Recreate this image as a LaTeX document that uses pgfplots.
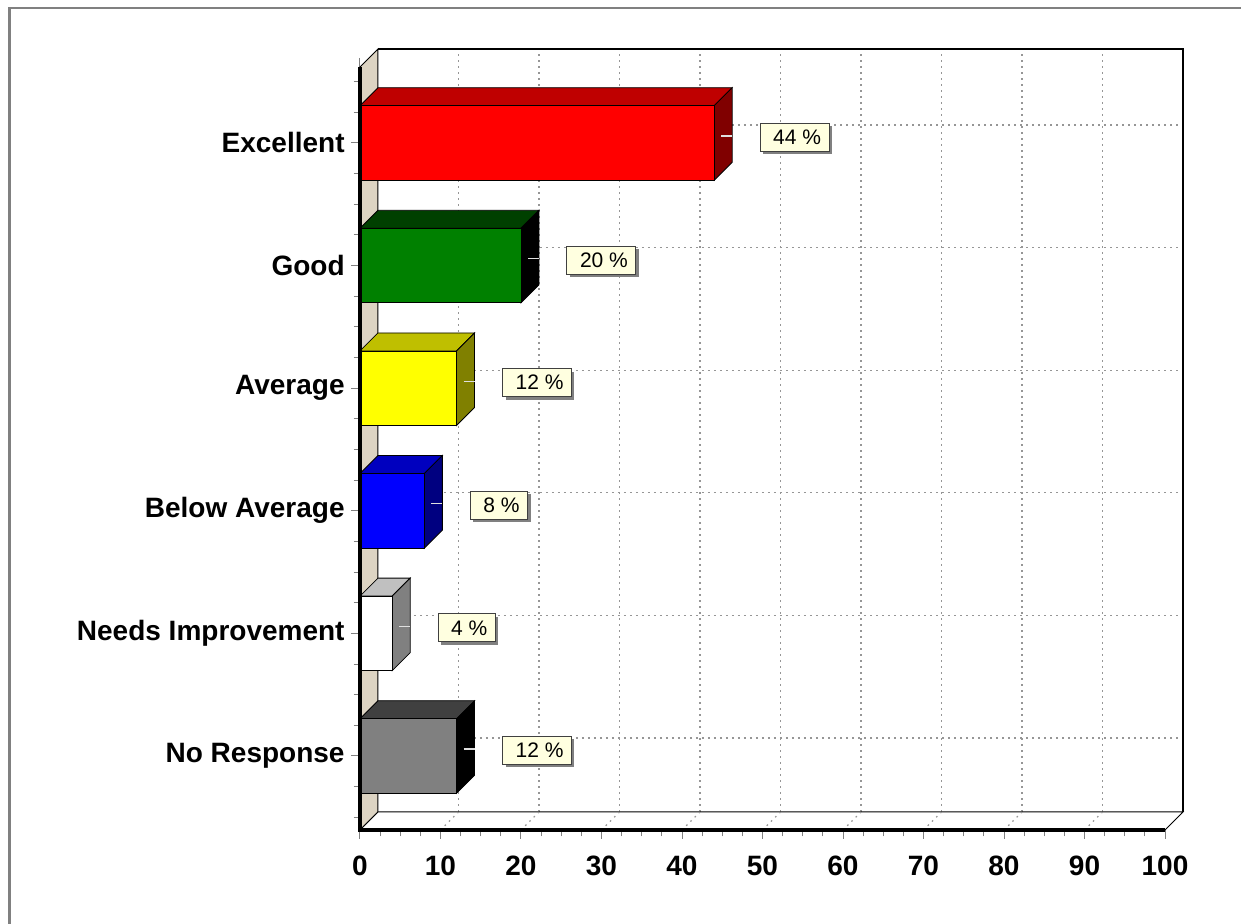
\documentclass[border=0pt]{standalone}
\usepackage{fontspec}
\setmainfont{Liberation Sans}
\usepackage{pgfplots}
\usepackage{pgfplotstable}
\pgfplotsset{compat=1.18}
\usetikzlibrary{shadows}

\definecolor{wall}{RGB}{221,212,195}
\definecolor{labelbg}{RGB}{255,255,224}
\definecolor{front0}{RGB}{255,0,0}     \definecolor{top0}{RGB}{191,0,0}     \definecolor{side0}{RGB}{128,0,0}
\definecolor{front1}{RGB}{0,128,0}     \definecolor{top1}{RGB}{0,64,0}      \definecolor{side1}{RGB}{0,0,0}
\definecolor{front2}{RGB}{255,255,0}   \definecolor{top2}{RGB}{191,191,0}   \definecolor{side2}{RGB}{128,128,0}
\definecolor{front3}{RGB}{0,0,255}     \definecolor{top3}{RGB}{0,0,191}     \definecolor{side3}{RGB}{0,0,128}
\definecolor{front4}{RGB}{255,255,255} \definecolor{top4}{RGB}{192,192,192} \definecolor{side4}{RGB}{128,128,128}
\definecolor{front5}{RGB}{128,128,128} \definecolor{top5}{RGB}{64,64,64}    \definecolor{side5}{RGB}{0,0,0}

% pos 5 = top row
\pgfplotstableread{
pos val
5   44
4   20
3   12
2   8
1   4
0   12
}\survey

% depth of the fake 3d and half bar height, in axis units
\def\dx{2.236}
\def\dy{0.1468}
\def\hh{0.304}

\tikzset{griddot/.style={color={rgb,255:red,150;green,150;blue,150}, line width=0.6pt, dash pattern=on 0.8pt off 2.2pt}}

\begin{document}
\begin{tikzpicture}
\useasboundingbox (-180pt,-47pt) rectangle (440.5pt,415pt);
\draw[color={rgb,255:red,128;green,128;blue,128}, line width=1.25pt]
  (-175.25pt,-50pt) -- (-175.25pt,411pt) -- (445pt,411pt);
\begin{axis}[
    at={(0,0)}, anchor=south west,
    x=4.025pt, y=61.3pt,
    xmin=0, xmax=100, ymin=-0.6036, ymax=5.62,
    clip=false,
    axis line style={draw=none},
    xtick={0,10,...,100},
    minor x tick num=3,
    ytick={0,...,5},
    yticklabels={No Response,Needs Improvement,Below Average,Average,Good,Excellent},
    minor ytick={-0.5,-0.25,...,5.5},
    tick align=outside,
    tick style={gray, line width=0.5pt},
    major tick length=4.5pt, minor tick length=3.2pt,
    ticklabel style={font=\fontsize{14}{16}\selectfont\bfseries},
    /pgf/number format/assume math mode=true,
    xticklabel style={anchor=north, inner sep=0pt, yshift=-8.5pt},
    yticklabel style={anchor=east, inner sep=0pt, xshift=-3pt},
]
% back wall
\fill[white] (axis cs:\dx,-0.4568) rectangle (axis cs:102.236,5.7668);
\pgfplotsinvokeforeach{10,20,...,90}{
  \draw[griddot] (axis cs:#1+\dx,-0.4568) -- (axis cs:#1+\dx,5.7668);
}
\pgfplotsinvokeforeach{0,...,5}{
  \draw[griddot] (axis cs:\dx,#1+\dy) -- (axis cs:102.236,#1+\dy);
}
\draw[line width=0.7pt] (axis cs:\dx,5.7668) -- (axis cs:102.236,5.7668) -- (axis cs:102.236,-0.4568);
% side wall and floor
\filldraw[fill=wall, draw=black, line width=0.5pt]
  (axis cs:0,-0.6036) -- (axis cs:\dx,-0.4568) -- (axis cs:\dx,5.7668) -- (axis cs:0,5.62) -- cycle;
\filldraw[fill=white, draw=black, line width=0.5pt]
  (axis cs:0,-0.6036) -- (axis cs:100,-0.6036) -- (axis cs:102.236,-0.4568) -- (axis cs:\dx,-0.4568) -- cycle;
\pgfplotsinvokeforeach{10,20,...,90}{
  \draw[griddot] (axis cs:#1,-0.6036) -- (axis cs:#1+\dx,-0.4568);
}

% bars
\pgfplotsinvokeforeach{0,...,5}{
  \pgfplotstablegetelem{#1}{val}\of\survey
  \pgfmathsetmacro\barv{\pgfplotsretval}
  \pgfplotstablegetelem{#1}{pos}\of\survey
  \pgfmathsetmacro\barp{\pgfplotsretval}
  \pgfmathsetmacro\ya{\barp-\hh}
  \pgfmathsetmacro\yb{\barp+\hh}
  \pgfmathsetmacro\yad{\barp-\hh+\dy}
  \pgfmathsetmacro\ybd{\barp+\hh+\dy}
  \pgfmathsetmacro\vd{\barv+\dx}
  \pgfmathsetmacro\vl{\barv+0.87}
  \pgfmathsetmacro\yl{\barp+0.057}
  \addplot[fill=top#1, draw=black, line width=0.4pt, forget plot]
    coordinates {(0,\yb) (\barv,\yb) (\vd,\ybd) (\dx,\ybd)} -- cycle;
  \addplot[fill=side#1, draw=black, line width=0.4pt, forget plot]
    coordinates {(\barv,\ya) (\vd,\yad) (\vd,\ybd) (\barv,\yb)} -- cycle;
  \addplot[fill=front#1, draw=black, line width=0.4pt, forget plot]
    coordinates {(0,\ya) (\barv,\ya) (\barv,\yb) (0,\yb)} -- cycle;
  \addplot[gray!25, line width=0.6pt, forget plot]
    coordinates {(\vl,\yl) (\vd,\yl)};
}

% value labels
\addplot[draw=none, mark=none, forget plot, point meta=explicit,
  nodes near coords={\hspace{2.5pt}\pgfmathprintnumber{\pgfplotspointmeta}~\%},
  every node near coord/.style={anchor=west, xshift=22.75pt, yshift=2.75pt,
    fill=labelbg, draw=black!75, line width=0.5pt, text=black,
    font=\fontsize{10.5}{12}\selectfont, inner xsep=4pt, inner ysep=0pt,
    minimum height=14pt,
    drop shadow={shadow xshift=1.5pt, shadow yshift=-1.5pt, fill=gray, opacity=1}}]
  table[x=val, y=pos, meta=val] {\survey};

% front edges
\draw[line width=1.6pt] (axis cs:0,5.62) -- (axis cs:0,-0.6036) -- (axis cs:100,-0.6036);
\end{axis}
\end{tikzpicture}
\end{document}
